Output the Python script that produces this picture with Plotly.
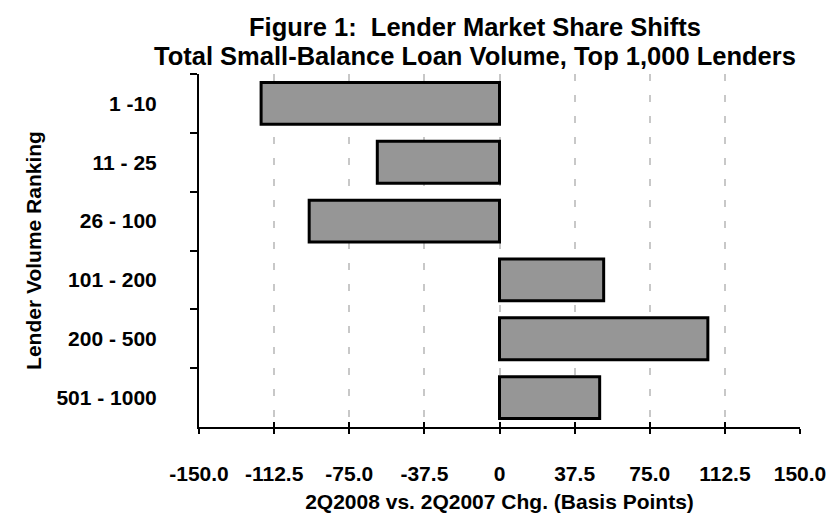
import plotly.graph_objects as go

categories = ["1 -10", "11 - 25", "26 - 100", "101 - 200", "200 - 500", "501 - 1000"]
share_change_bp = [-119, -61, -95, 52, 104, 50]
tick_values = [-150, -112.5, -75, -37.5, 0, 37.5, 75, 112.5, 150]
tick_labels = ["-150.0", "-112.5", "-75.0", "-37.5", "0", "37.5", "75.0", "112.5", "150.0"]

FONT = "Liberation Sans, Arial, sans-serif"

fig = go.Figure()
fig.add_trace(go.Bar(
    x=share_change_bp,
    y=categories,
    orientation="h",
    marker=dict(color="#969696", line=dict(color="black", width=3)),
    showlegend=False,
    hoverinfo="x+y",
))

fig.update_layout(
    width=839, height=514,
    margin=dict(l=191, r=47, t=66, b=84),
    paper_bgcolor="white", plot_bgcolor="white",
    bargap=0.29,
    font=dict(family=FONT, color="black"),
    xaxis=dict(
        range=[-150, 150],
        tickvals=tick_values, ticktext=tick_labels,
        tickfont=dict(size=21, family=FONT, color="black", weight="bold"),
        ticks="outside", ticklen=5, tickwidth=2, tickcolor="black",
        ticklabelstandoff=22,
        showline=True, linecolor="black", linewidth=2,
        showgrid=True, gridcolor="#c8c8c8", gridwidth=2, griddash="7px,14px",
        zeroline=False,
        title=dict(text="<b>2Q2008 vs. 2Q2007 Chg. (Basis Points)</b>",
                   font=dict(size=21, family=FONT, color="black"), standoff=10),
        fixedrange=True,
    ),
    xaxis2=dict(
        matches="x", overlaying="x", side="bottom",
        range=[-150, 150], tickvals=tick_values,
        ticks="inside", ticklen=5, tickwidth=2, tickcolor="black",
        showticklabels=False, showgrid=False, showline=False, zeroline=False,
    ),
    yaxis=dict(
        autorange="reversed",
        tickfont=dict(size=21, family=FONT, color="black", weight="bold"),
        ticks="outside", ticklen=7, tickwidth=2, tickcolor="black",
        tickson="boundaries",
        ticklabelstandoff=36,
        showline=True, linecolor="black", linewidth=2,
        showgrid=False, zeroline=False,
        title=dict(text="<b>Lender Volume Ranking</b>",
                   font=dict(size=21, family=FONT, color="black"), standoff=9),
    ),
    annotations=[
        dict(text="<b>Figure 1:\u00a0 Lender Market Share Shifts</b>",
             x=0.459, y=1 + 48.5 / 364, xref="paper", yref="paper",
             xanchor="center", yanchor="middle", showarrow=False,
             font=dict(size=25.5, family=FONT, color="black")),
        dict(text="<b>Total Small-Balance Loan Volume, Top 1,000 Lenders</b>",
             x=0.459, y=1 + 18.5 / 364, xref="paper", yref="paper",
             xanchor="center", yanchor="middle", showarrow=False,
             font=dict(size=25.5, family=FONT, color="black")),
    ],
)

# invisible helper trace so the tick-overlay axis is drawn
fig.add_trace(go.Scatter(x=[None], y=[None], xaxis="x2", yaxis="y",
                         showlegend=False, hoverinfo="skip"))

fig.write_html("out.html")
